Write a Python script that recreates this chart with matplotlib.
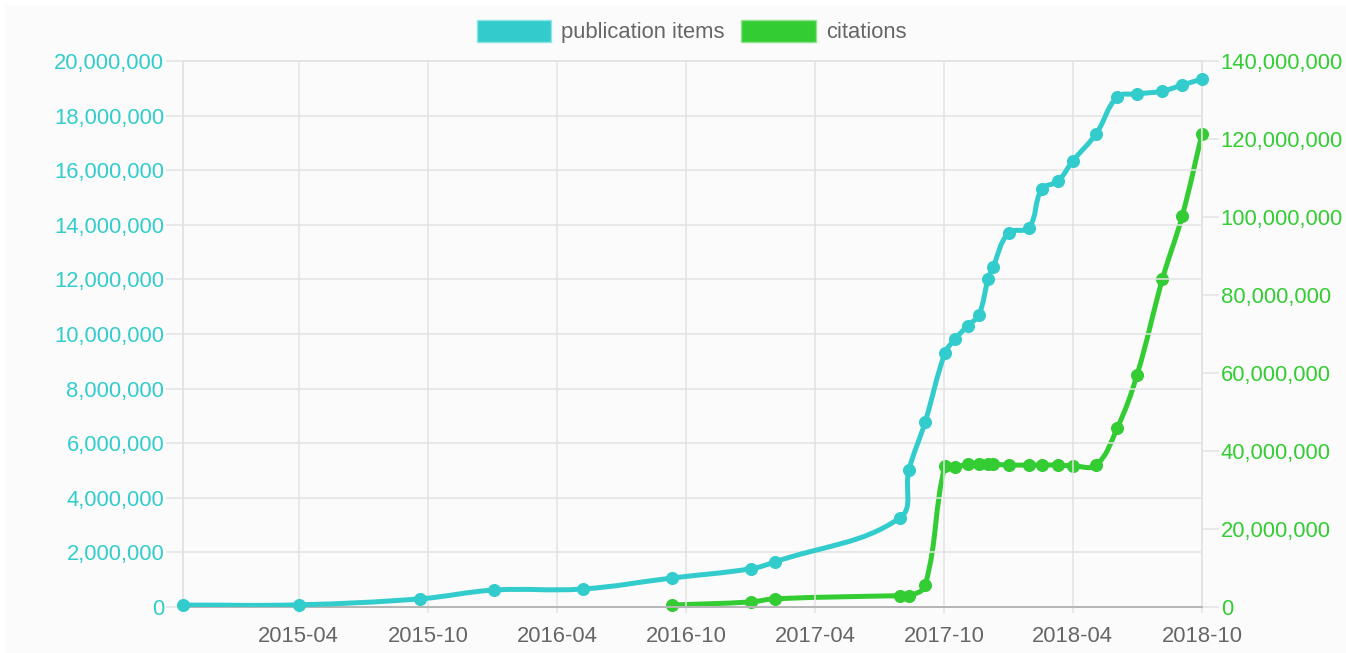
import datetime as dt

import matplotlib
matplotlib.use('Agg')
import matplotlib.dates as mdates
import matplotlib.pyplot as plt
import numpy as np
from matplotlib.patches import PathPatch, Patch, Rectangle
from matplotlib.path import Path
from matplotlib.ticker import FuncFormatter, MultipleLocator

fechas = [
    '2014-10-19', '2015-04-01', '2015-09-20', '2016-01-02', '2016-05-07',
    '2016-09-10', '2016-12-31', '2017-02-03', '2017-07-30', '2017-08-12',
    '2017-09-04', '2017-10-02', '2017-10-16', '2017-11-03', '2017-11-19',
    '2017-12-02', '2017-12-09', '2017-12-31', '2018-01-29', '2018-02-16',
    '2018-03-11', '2018-04-01', '2018-05-04', '2018-06-03', '2018-07-01',
    '2018-08-06', '2018-09-03', '2018-10-01',
]

# millones
publicaciones = [
    0.07, 0.08, 0.30, 0.62, 0.66,
    1.06, 1.40, 1.65, 3.26, 5.02,
    6.78, 9.30, 9.80, 10.30, 10.70,
    12.00, 12.45, 13.70, 13.90, 15.30,
    15.60, 16.34, 17.33, 18.68, 18.79,
    18.90, 19.12, 19.34,
]

# millones, sin datos antes de 2016-09
citas = [
    None, None, None, None, None,
    0.5, 1.3, 2.1, 2.9, 2.8,
    5.6, 36.2, 35.9, 36.6, 36.6,
    36.6, 36.6, 36.4, 36.4, 36.4,
    36.4, 36.2, 36.4, 45.9, 59.5,
    84.1, 100.3, 121.3,
]

ticks_x = ['2015-04', '2015-10', '2016-04', '2016-10', '2017-04', '2017-10', '2018-04', '2018-10']

CIAN = '#33cccc'
VERDE = '#33cc33'
GRIS_TEXTO = '#666666'
GRIS_GRID = '#e3e3e3'
FONDO = '#fbfbfb'
TAM = 15.8


def curva(ax, xs, ys, color, tension=0.4):
    # curva tipo Chart.js (tension 0.4) calculada en pixeles
    pts = ax.transData.transform(np.column_stack([xs, ys]))
    x0, y0, x1, y1 = ax.bbox.extents
    n = len(pts)
    controles = []
    for i in range(n):
        prev = pts[max(i - 1, 0)]
        cur = pts[i]
        nxt = pts[min(i + 1, n - 1)]
        d01 = np.hypot(*(cur - prev))
        d12 = np.hypot(*(nxt - cur))
        total = d01 + d12
        s01 = d01 / total if total else 0
        s12 = d12 / total if total else 0
        a = cur - tension * s01 * (nxt - prev)
        b = cur + tension * s12 * (nxt - prev)
        a = np.clip(a, [x0, y0], [x1, y1])
        b = np.clip(b, [x0, y0], [x1, y1])
        controles.append((a, b))

    verts = [pts[0]]
    codes = [Path.MOVETO]
    for i in range(1, n):
        verts += [controles[i - 1][1], controles[i][0], pts[i]]
        codes += [Path.CURVE4] * 3
    verts = ax.transData.inverted().transform(np.array(verts))
    ax.add_patch(PathPatch(Path(verts, codes), fill=False, edgecolor=color,
                           lw=3.6, capstyle='round', joinstyle='round', zorder=3))
    ax.plot(xs, ys, 'o', ms=8.4, color=color, zorder=4, clip_on=False)


def main():
    plt.rcParams['font.family'] = ['Liberation Sans', 'DejaVu Sans']

    fig = plt.figure(figsize=(13.46, 6.53), dpi=100, facecolor='white')
    fig.patches.append(Rectangle((5 / 1346, 0), 1, 1 - 5 / 653, transform=fig.transFigure,
                                 facecolor=FONDO, edgecolor='none', zorder=-10))
    ax = fig.add_axes([183 / 1346, 46 / 653, 1019 / 1346, 546 / 653])
    ax2 = ax.twinx()

    x = mdates.date2num([dt.datetime.strptime(f, '%Y-%m-%d') for f in fechas])
    y1 = np.array(publicaciones) * 1e6

    ax.set_xlim(x[0], x[-1])
    ax.set_ylim(0, 20e6)
    ax2.set_ylim(0, 140e6)

    # rejilla
    xt = mdates.date2num([dt.datetime.strptime(t + '-01', '%Y-%m-%d') for t in ticks_x])
    ax.set_xticks(xt)
    ax.set_xticklabels(ticks_x)
    ax.yaxis.set_major_locator(MultipleLocator(2e6))
    ax2.yaxis.set_major_locator(MultipleLocator(20e6))
    fmt = FuncFormatter(lambda v, p: f'{int(round(v)):,}')
    ax.yaxis.set_major_formatter(fmt)
    ax2.yaxis.set_major_formatter(fmt)
    ax.grid(True, color=GRIS_GRID, lw=1.1, zorder=0)
    ax.set_axisbelow(True)

    for a in (ax, ax2):
        for lado in ('left', 'right', 'top'):
            a.spines[lado].set_color(GRIS_GRID)
            a.spines[lado].set_linewidth(1.1)
        a.spines['bottom'].set_color('#b5b5b5')
        a.spines['bottom'].set_linewidth(1.3)

    ax.tick_params(axis='y', length=12, width=1.1, color=GRIS_GRID, pad=1.5,
                   labelsize=TAM, labelcolor=CIAN)
    ax2.tick_params(axis='y', length=12, width=1.1, color=GRIS_GRID, pad=1.5,
                    labelsize=TAM, labelcolor=VERDE)
    ax.tick_params(axis='x', length=4.5, width=1.1, color=GRIS_GRID, pad=9,
                   labelsize=TAM, labelcolor=GRIS_TEXTO)

    ax.set_zorder(ax2.get_zorder() + 1)
    ax.patch.set_visible(False)
    ax2.patch.set_visible(True)
    ax2.patch.set_facecolor(FONDO)

    curva(ax, x, y1, CIAN)
    idx = [i for i, c in enumerate(citas) if c is not None]
    curva(ax2, x[idx], np.array([citas[i] for i in idx]) * 1e6, VERDE)

    ax2.set_xlim(x[0], x[-1])

    manejadores = [Patch(facecolor=CIAN, edgecolor='#8fe3e3', lw=1),
                   Patch(facecolor=VERDE, edgecolor='#8fe38f', lw=1)]
    fig.legend(manejadores, ['publication items', 'citations'], loc='center',
               bbox_to_anchor=(691.5 / 1346, 1 - 31.5 / 653), ncol=2, frameon=False,
               fontsize=TAM, labelcolor=GRIS_TEXTO, handlelength=3.4, handleheight=1.18,
               handletextpad=0.45, columnspacing=0.75, borderpad=0)

    fig.savefig('out.png', dpi=100, facecolor=fig.get_facecolor())


if __name__ == '__main__':
    main()
